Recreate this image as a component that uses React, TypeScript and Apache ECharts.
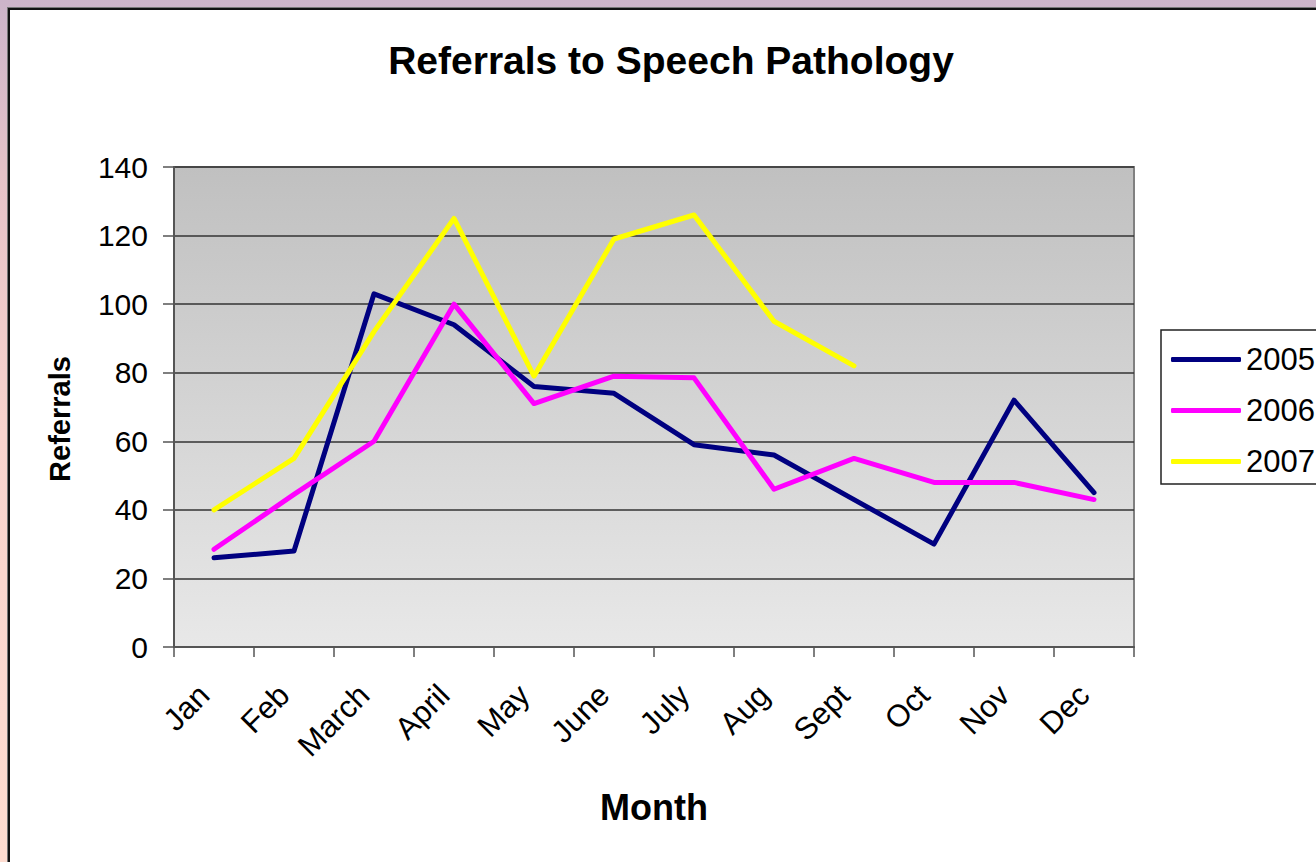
import React, { useEffect, useRef } from "react";
import * as echarts from "echarts";

const months = ["Jan", "Feb", "March", "April", "May", "June", "July", "Aug", "Sept", "Oct", "Nov", "Dec"];
const y2005 = [26, 28, 103, 94, 76, 74, 59, 56, 43, 30, 72, 45];
const y2006 = [28.5, 44.5, 60, 100, 71, 79, 78.5, 46, 55, 48, 48, 43];
const y2007 = [40, 55, 92, 125, 79, 119, 126, 95, 82];
const yTicks = { min: 0, max: 140, interval: 20 };

const FONT = "'Liberation Sans', Arial, sans-serif";

export default function App() {
  const ref = useRef<HTMLDivElement>(null);
  useEffect(() => {
    if (!ref.current) return;
    const chart = echarts.init(ref.current, undefined, { renderer: "svg" });
    const mk = (name: string, data: number[], color: string) => ({
      name,
      type: "line",
      data,
      symbol: "none",
      showSymbol: false,
      lineStyle: { color, width: 5, cap: "round", join: "round" },
      itemStyle: { color },
      z: 3,
    });
    chart.setOption({
      animation: false,
      backgroundColor: "transparent",
      textStyle: { fontFamily: FONT },
      title: {
        text: "Referrals to Speech Pathology",
        left: 671,
        textAlign: "center",
        top: 41,
        padding: 0,
        textStyle: { fontFamily: FONT, fontSize: 39, fontWeight: "bold", color: "#000" },
      },
      legend: {
        orient: "vertical",
        left: 1161,
        top: 330,
        padding: [14, 30, 7, 10],
        itemGap: 20,
        itemWidth: 70,
        itemHeight: 5,
        icon: "roundRect",
        borderColor: "#222",
        borderWidth: 1.5,
        backgroundColor: "#fff",
        textStyle: { fontFamily: FONT, fontSize: 31, color: "#000" },
        data: ["2005", "2006", "2007"],
      },
      grid: {
        left: 174,
        top: 167,
        width: 960,
        height: 480,
        show: true,
        borderColor: "#808080",
        borderWidth: 2,
        backgroundColor: {
          type: "linear",
          x: 0,
          y: 0,
          x2: 0,
          y2: 1,
          colorStops: [
            { offset: 0, color: "#c0c0c0" },
            { offset: 1, color: "#e8e8e8" },
          ],
        },
      },
      xAxis: {
        type: "category",
        data: months,
        boundaryGap: true,
        name: "Month",
        nameLocation: "middle",
        nameGap: 142,
        nameTextStyle: { fontFamily: FONT, fontSize: 36, fontWeight: "bold", color: "#000", verticalAlign: "top" },
        axisLine: { show: true, lineStyle: { color: "#555", width: 2 } },
        axisTick: { show: true, interval: 0, length: 10, lineStyle: { color: "#555", width: 1.5 } },
        axisLabel: {
          interval: 0,
          rotate: 45,
          margin: 33,
          padding: [0, 14, 0, 0],
          fontSize: 31,
          color: "#000",
          fontFamily: FONT,
        },
        splitLine: { show: false },
      },
      yAxis: {
        type: "value",
        min: yTicks.min,
        max: yTicks.max,
        interval: yTicks.interval,
        name: "Referrals",
        nameLocation: "middle",
        nameRotate: 90,
        nameGap: 100,
        nameTextStyle: { fontFamily: FONT, fontSize: 29, fontWeight: "bold", color: "#000", padding: [0, 24, 0, 0] },
        axisLine: { show: true, lineStyle: { color: "#555", width: 2 } },
        axisTick: { show: true, length: 11, lineStyle: { color: "#555", width: 1.5 } },
        axisLabel: { margin: 26, fontSize: 30, color: "#000", fontFamily: FONT },
        splitLine: { show: true, lineStyle: { color: "#333", width: 1.5 } },
      },
      series: [mk("2005", y2005, "#000080"), mk("2006", y2006, "#ff00ff"), mk("2007", y2007, "#ffff00")],
    });
    return () => chart.dispose();
  }, []);

  return (
    <div
      style={{
        position: "fixed",
        left: 0,
        top: 0,
        width: 1316,
        height: 862,
        overflow: "hidden",
        background: "linear-gradient(to bottom, #ccb4c9 0%, #e6c2c8 20%, #f8d3cd 50%, #fedcd0 100%)",
      }}
    >
      <div
        style={{
          position: "absolute",
          left: 8,
          top: 8,
          width: 1400,
          height: 900,
          background: "#fff",
          borderLeft: "2px solid #111",
          borderTop: "2px solid #111",
          boxShadow: "-1px -1px 0 #777",
        }}
      />
      <div ref={ref} style={{ position: "absolute", left: 0, top: 0, width: 1316, height: 862 }} />
    </div>
  );
}
